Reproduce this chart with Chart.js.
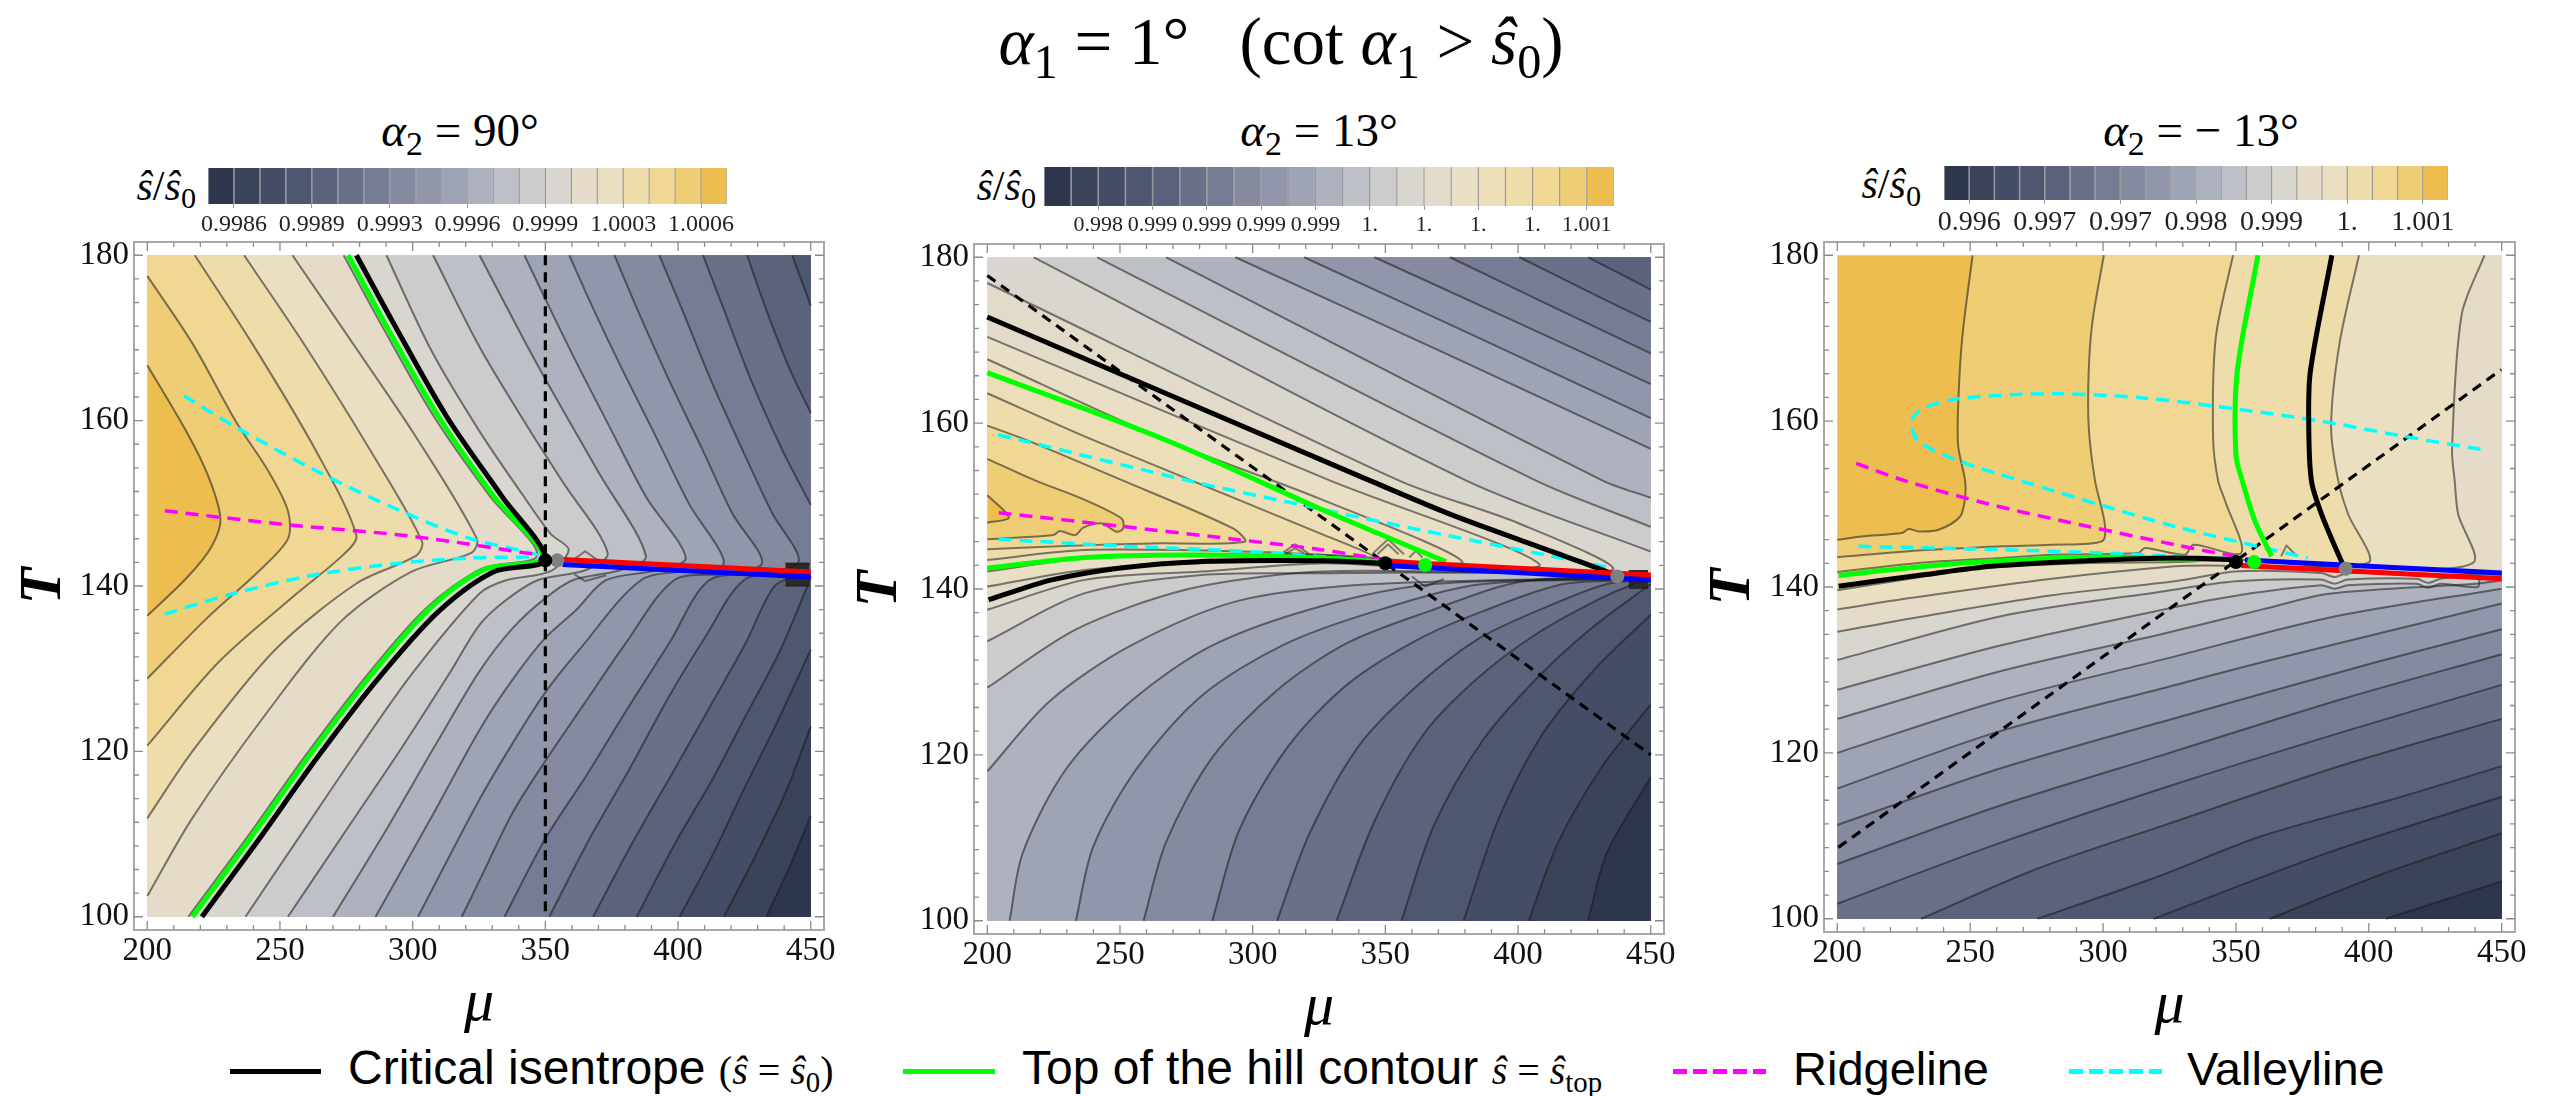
<!DOCTYPE html>
<html><head><meta charset="utf-8">
<script src="https://cdn.jsdelivr.net/npm/chart.js@4/dist/chart.umd.min.js"></script>
<style>
html,body{margin:0;padding:0;background:#fff;width:2558px;height:1096px;overflow:hidden}
canvas{position:absolute}
.t{position:absolute;white-space:nowrap;font-family:"Liberation Serif",serif;color:#000;transform:translate(-50%,-50%);line-height:1}
.r{transform:translate(-100%,-50%)}
.l{transform:translate(0,-50%)}
.s{font-family:"Liberation Sans",sans-serif}
sub{font-size:.72em;vertical-align:baseline;position:relative;top:.28em;line-height:0}
.k{position:absolute;height:5px}
.m{font-family:'Liberation Serif';font-size:40px}
</style></head><body>
<div class="t" style="left:1281px;top:41px;font-size:67px"><i>α</i><sub>1</sub> = 1°&nbsp;&nbsp;&nbsp;(cot <i>α</i><sub>1</sub> &gt; <i>ŝ</i><sub>0</sub>)</div>
<div class="t" style="left:460px;top:130px;font-size:47px"><i>α</i><sub>2</sub> = 90°</div>
<div class="t" style="left:1319px;top:130px;font-size:47px"><i>α</i><sub>2</sub> = 13°</div>
<div class="t" style="left:2201px;top:130px;font-size:47px"><i>α</i><sub>2</sub> = − 13°</div>
<div class="t r" style="left:196px;top:186px;font-size:42px"><i>ŝ</i>/<i>ŝ</i><sub>0</sub></div>
<div class="t r" style="left:1036px;top:186px;font-size:42px"><i>ŝ</i>/<i>ŝ</i><sub>0</sub></div>
<div class="t r" style="left:1921px;top:184px;font-size:42px"><i>ŝ</i>/<i>ŝ</i><sub>0</sub></div>
<div class="k" style="left:230px;top:1069px;width:91px;background:#000"></div>
<div class="t l s" style="left:348px;top:1068px;font-size:48px">Critical isentrope <span class="m">(<i>ŝ</i> = <i>ŝ</i><sub>0</sub>)</span></div>
<div class="k" style="left:903px;top:1069px;width:92px;background:#00ff00"></div>
<div class="t l s" style="left:1022px;top:1068px;font-size:48px">Top of the hill contour <span class="m"><i>ŝ</i> = <i>ŝ</i><sub>top</sub></span></div>
<div class="k" style="left:1673px;top:1069px;width:93px;background:repeating-linear-gradient(90deg,#ff00ff 0 14px,transparent 14px 20px)"></div>
<div class="t l s" style="left:1793px;top:1068px;font-size:47px">Ridgeline</div>
<div class="k" style="left:2069px;top:1069px;width:93px;background:repeating-linear-gradient(90deg,#00ffff 0 14px,transparent 14px 20px)"></div>
<div class="t l s" style="left:2187px;top:1068px;font-size:47px">Valleyline</div>
<script>
// ---- axes ----
const muMin=200, muMax=450, tMin=100, tMax=180;
const xTickValues=[200,250,300,350,400,450];
const yTickValues=[100,120,140,160,180];
// ---- colour bands, darkest first ----
const palette20=['#2e364d','#3b4359','#444c66','#4f5670','#5c627c','#6a7087','#767c94','#858a9f','#9296ab','#9fa4b4','#aeb1be','#bec0c7','#cccccc','#d9d6cf','#e4dcc9','#eae0c1','#efdcab','#f0d793','#efcd75','#edbd4f'];
const palette21=['#2e364d','#3b4359','#444c66','#4f5670','#5c627c','#6a7087','#767c94','#858a9f','#9296ab','#9fa4b4','#aeb1be','#bec0c7','#cccccc','#d9d6cf','#e2dbca','#e8dfc4','#ecdfb8','#efdcab','#f0d793','#efcd75','#edbd4f'];
// ---- colourbar tick labels ----
const bar1Ticks=[1,4,7,10,13,16,19];
const bar1Labels=['0.9986','0.9989','0.9993','0.9996','0.9999','1.0003','1.0006'];
const bar2Ticks=[2,4,6,8,10,12,14,16,18,20];
const bar2Labels=['0.998','0.999','0.999','0.999','0.999','1.','1.','1.','1.','1.001'];
const bar3Ticks=[1,4,7,10,13,16,19];
const bar3Labels=['0.996','0.997','0.997','0.998','0.999','1.','1.001'];
// ---- panel 1 : alpha2 = 90 ----
const p1Contours=[
[[200,166.7],[214.9,158.6],[223.1,153.2],[227.6,148.1],[224.1,144.7],[214.9,141],[200,136.4]],
[[200,177.5],[216.9,169.4],[233.4,159.9],[245.8,153.8],[253,149.1],[253,145.7],[241.7,141.7],[223.1,136.3],[200,128.8]],
[[217.9,180],[239.4,169.4],[263.3,156.5],[278.8,146.1],[273.6,143.7],[256,139],[227.2,130.9],[200,120.7]],
[[236.5,180],[260.2,168.7],[285,155.9],[303.5,145.4],[301.5,143.7],[278.8,140.3],[247.9,132.2],[217,120],[200,111.9]],
[[254.7,180],[278.8,168.7],[301.5,157.9],[324.2,145.7],[322.1,144],[299.4,141.7],[272.6,135.6],[243.7,124.1],[216.9,111.9],[200,102.5]],
[[274,180],[287.5,172],[308,160.5],[329,150.9],[347,143.7],[326,142.1],[304.7,137.2],[282,128.9],[259.4,119.4],[236.7,109.2],[215.5,100]],
[[290.1,180],[307,168.5],[325.2,158.7],[341.5,151],[352,146.3],[358.8,144.4],[352,141.8],[335.2,140.7],[325.2,139.1],[300,129.5],[278,119.5],[258,110],[237,100]],
[[307.7,180],[325.2,168.9],[344,158.9],[356.5,152.6],[373.5,144],[365,141.9],[347.1,140.7],[335.2,138.3],[325.2,135.3],[314,129.5],[296,120.5],[275,110.5],[253,100]],
[[325.2,180],[342.7,169.3],[355.3,162],[370.3,153.6],[387.9,143.6],[378,141.9],[360.3,140.7],[349.9,138.5],[337.7,134.9],[325.2,129.7],[309,121],[290,110.5],[270,100]],
[[342.1,180],[350.3,174.5],[361.6,167.1],[374.1,159.3],[387.9,150.8],[402.9,143.4],[392,141.9],[372.8,140.7],[361.6,137.1],[349.9,133.7],[337.7,128.7],[325.2,122.6],[307,112],[286,100]],
[[359,180],[367.8,173.7],[379.1,166.1],[391.6,158.1],[404.2,149.9],[417.3,142.8],[405,141.9],[386,140.7],[362.8,132.3],[349.9,127.1],[337.7,121],[325.2,114.2],[302,100]],
[[376,180],[385.4,172.9],[396.6,164.9],[409.2,156.5],[420.4,148.8],[431.7,142.8],[418,141.5],[398.5,140.7],[380.3,133.1],[364.1,125.5],[349.9,118.8],[337.7,112.6],[325.2,104.4],[318.5,100]],
[[392.9,180],[401.7,173.3],[412.9,164.5],[424.2,156.5],[435.5,148.8],[445.5,143],[432,141.5],[411.7,140.7],[396.7,133.1],[381.6,125.5],[365.3,117],[349.9,109.4],[334.6,100]],
[[409.4,180],[417.9,172.9],[428,164.5],[439.2,156.5],[450,149.8],null,[450,141.8],[442,141.6],[424.8,140.7],[410.4,133.9],[396.7,126.7],[381.6,117.8],[366.6,109.4],[351.5,100]],
[[426,180],[432.9,173.7],[441.7,166.5],[450,160.9],null,[450,141.5],[445,141.3],[436.1,139.9],[425.5,133.1],[412.9,125.9],[397.9,117.4],[382.9,109],[368,100]],
[[443,180],[450,173.9],null,[450,141.2],[448.6,139.9],[438,131.9],[425.5,124.3],[412.9,116.6],[399.1,109],[384.4,100]],
[[450,132.3],[437.9,123.9],[425.4,115.8],[412.9,107.4],[400.6,100]],
[[450,123],[440.5,115],[429.2,107.4],[417.3,100]],
[[450,112.2],[441.7,105.8],[433.2,100]]
];
const p1Close=['BL BR TR TL','BL BR TR TL','BL BR TR','BL BR TR','BL BR TR','BR TR','BR TR','BR TR','BR TR','BR TR','BR TR','BR TR','BR TR','BR TR','BR TR','BR TR','BR','BR','BR'];
const p1Notches=[[[358,142.6],[365,144.2],[372,142.6]],[[361,141.4],[365,140.6],[373,141.3]],[[440.5,142.7],[449.5,142.7]],[[440.5,140],[449.5,140]]];
const p1Patch=[[440.5,142.8],[449.5,142.8],[449.5,140],[440.5,140]];
const p1Black=[[278.8,180],[292.4,172],[312.8,160.5],[333.5,150.9],[350,143.2],[330.4,141.7],[309.7,136.9],[287,128.8],[264.4,119.4],[241.7,109.2],[220.6,100]];
const p1Green=[[275.7,180],[289.1,172],[309.7,160.5],[330.4,150.9],[349,143.4],[327,142],[306.2,137.2],[283.5,128.9],[260.9,119.4],[238.2,109.2],[217,100]];
const p1Ridge=[[206.6,149.1],[250,147.5],[300,146],[349,143.7]];
const p1Valley=[[213.8,163],[233.4,159.2],[264.4,153.8],[293.2,149.4],[322,145.7],[347,143.7],[322,143.4],[293.2,142.7],[262.3,141.3],[231.4,139],[206.6,136.6]];
const p1Dashed=[[350,180],[350,100]];
const p1Red=[[356.5,143.2],[450,141.7]];
const p1Blue=[[356.5,142.6],[450,141.1]];
const p1Dots={black:[350,143.1],gray:[354.5,143.1]};
// ---- panel 2 : alpha2 = 13 ----
const p2Contours=[
[[200,151.3],[206.8,149.3],[208,148.5],[200,148]],
[[200,155.7],[218,153.1],[235.6,150.9],[250.6,148.5],[251.2,147.3],[248.8,146.9],[243.1,147.9],[236.2,147.4],[233.1,146.5],[227.4,147],[224.9,146.5],[211.8,146.2],[200,146]],
[[200,159.7],[214.9,157.95],[249.4,153.3],[292.6,147.3],[297,145.7],[261.9,145.5],[230.6,145.2],[200,144.8]],
[[200,163.6],[240,157.95],[327,146.5],[346.5,143.7],[327,144.1],[299.5,144.5],[236.8,144.7],[200,143.5]],
[[200,167.7],[267,158],[325.2,150.9],[379,143.3],[340,143.9],[327,144.1],[279.4,144.1],[236.8,143.7],[200,142.1]],
[[200,170.4],[329,153.1],[408,143],[360,143],[327,143.3],[279.4,143.1],[236.8,142.3],[200,140.3]],
[[200,176.9],[355,153.1],[400.4,147.9],[435.5,142.3],[360,142.6],[327,143.1],[280.7,142.1],[236.8,141.1],[200,137.5]],
[[217.5,180],[380.3,153.1],[450,144.5],null,[450,141.8],[360,142],[327,141.9],[280.7,141.7],[236.8,139.5],[200,133.7]],
[[241.4,180],[406.6,153.1],[450,147.5],null,[450,141.6],[345.9,142.2],[315.3,141.9],[274.6,139.9],[233.8,135.2],[200,128.1]],
[[267.4,180],[431.7,153.1],[450,151],null,[450,141.4],[345.9,140.6],[294.9,138.6],[254.2,133.2],[223.6,126.5],[200,118]],
[[293.5,180],[372,168.5],[450,156.9],null,[450,141.3],[368.3,140.6],[325.5,137.9],[284.8,133.2],[254.2,126.5],[229.7,118.3],[213.4,108.2],[208.4,100]],
[[319.4,180],[385,170.3],[450,160.6],null,[450,141.2],[386.6,140.6],[345.9,137.3],[311.2,133.2],[280.7,127.1],[256.2,118.3],[239.9,108.9],[233.4,100]],
[[345.9,180],[398,172.4],[450,164.7],null,[450,141.2],[402.9,141],[366.3,137.3],[335.7,133.5],[309.2,127.8],[284.8,119.7],[267.4,109.5],[258.9,100]],
[[374.4,180],[412,174.2],[450,168.4],null,[450,141.1],[417.2,140.6],[386.6,137.3],[362.2,133.9],[335.7,128.5],[313.3,121],[294.9,110.9],[284.8,100]],
[[400.5,180],[425,176.1],[450,172.2],null,[450,141.1],[433.5,140.6],[409,137.6],[384.6,133.9],[360.1,127.8],[339.8,121],[321.4,110.5],[309.2,100]],
[[426.4,180],[450,176.1],null,[450,141],[443.7,140.6],[429.4,138.6],[407,134.6],[384.6,129.2],[364.2,122.4],[345.9,112],[331.6,100]],
[[450,140.6],[427.4,135.2],[407,129.2],[386.6,121.7],[368.3,111.5],[356.1,100]],
[[450,136.9],[429.4,130.5],[409,122.4],[392.7,112.3],[379.5,100]],
[[450,126.1],[431.5,118.5],[415.2,109.5],[404,100]],
[[450,117.3],[433.5,108.2],[426.4,100]]
];
const p2Close=['BL BR TR TL','BL BR TR TL','BL BR TR TL','BL BR TR TL','BL BR TR TL','BL BR TR TL','BL BR TR TL','BL BR TR','BL BR TR','BL BR TR','BR TR','BR TR','BR TR','BR TR','BR TR','BR TR','BR','BR','BR','BR'];
const p2Notches=[[[311,144.3],[316,145.4],[321,144.3]],[[312.5,144.3],[316,144.9],[319.5,144.3]],[[345,144.2],[351,146],[357,144.2]],[[347,144.2],[351,145.4],[355,144.2]],[[359,143.8],[361.5,144.6],[364,143.8]],[[360,141.5],[365,140.3],[372,141.2]]];
const p2Patch=[[441.7,142.3],[449,142.3],[449,140],[441.7,140]];
const p2Black=[[200,172.8],[344,153.1],[375.3,148.9],[412.9,144.5],[431.7,142.3],[437.4,141.5],null,[200.5,138.7],[211.8,139.9],[224.3,141.1],[249.4,142.5],[279.4,143.3],[327,143.4],[350,143.1]];
const p2Green=[[200,166.1],[267,158],[325.2,149.7],[350.3,146.3],[372.8,143.3],null,[200,142.5],[236.8,143.8],[279.4,144.1],[327,143.7],[350,143.2]];
const p2Ridge=[[204.3,149.2],[249.4,147.6],[293.2,146],[324.5,144.8],[350,143.5]];
const p2Valley=[[204,158.6],[211.8,158],[279.4,152.8],[315.8,150.3],[329,149.4],[366.5,146.9],[410.4,144.1],[435.5,142.5],null,[204.3,146],[249.4,145.2],[299.5,144.5],[350,143.3]];
const p2Dashed=[[200,177.8],[450,120]];
const p2Red=[[352,143.3],[450,141.7]];
const p2Blue=[[352,142.8],[450,141.1]];
const p2Dots={black:[350,143.1],green:[365,142.9],gray:[437.4,141.5]};
// ---- panel 3 : alpha2 = -13 ----
const p3Contours=[
[[250.9,180],[247,170],[245.5,162],[245.5,157],[248.1,152.8],[248.1,150.8],[246.2,148.5],[238.1,146.9],[230.6,146.7],[226.8,147],[224.3,146.5],[209.3,146.1],[200,145.7]],
[[300.3,180],[296,172],[294.6,166],[294.6,159.3],[297,152.8],[300.7,147.5],[299.5,145.5],[280.7,145.1],[261.9,144.9],[230.6,144.4],[200,143.6]],
[[348.9,180],[342.4,170],[341.4,157.9],[343.3,152.8],[345.9,150.4],[352,144.1],[334,145.1],[330.8,143.9],[315.8,144.7],[313.3,144.1],[280.7,143.9],[261.9,143.5],[230.6,142.9],[200,141.8]],
[[396.3,180],[389,169.4],[385.8,159.3],[388.5,152.8],[392.2,148.8],[399.7,142.9],[350,143.3],[327,143],[295.7,142.9],[258.1,142.4],[233.1,141.3],[200,139.6]],
[[443.5,180],[434.9,172.8],[431.3,156.6],[432.3,152.8],[433.6,148.8],[439.2,142.9],[400,142.4],[340,142.6],[327,142.5],[280.7,141],[228.1,138.7],[200,137.3]],
[[200,134.6],[229.3,136.3],[280.7,139],[327,140.7],[351,141.9],[382,141.7],[387.2,141.2],[392,141.7],[423,141.4],[450,141.8]],
[[200,131.2],[262,136.5],[323,139.5],[350,140.7],[382,140.9],[387.2,140.4],[392,140.9],[418,141],[422.3,140.5],[427,141],[442,141.5],[450,141.6]],
[[200,127.6],[262,133],[323,137.3],[351,139],[382,140.2],[387.2,139.8],[392,140.2],[418,140.4],[422.3,139.9],[427,140.4],[441,140],[442,141.1],[450,141.3]],
[[200,124.1],[262,129.9],[323,134.4],[360,137.3],[385,139.2],[440,140.4],[450,140.8]],
[[200,120],[260,126.2],[323,131.3],[385,136.3],[450,139.8]],
[[200,115.7],[260,122.5],[325,128],[362,131.1],[450,138]],
[[200,111.3],[260,118],[325,124],[404.7,131.1],[450,134.9]],
[[200,106.6],[260,113.5],[325,120],[390,126.5],[450,131.9]],
[[200,101.8],[260,109],[325,116],[390,122.5],[450,128.2]],
[[231.5,100],[275,106],[325,111.5],[390,118.5],[450,124.1]],
[[275.3,100],[320,105],[360,110],[410,114.5],[450,118.4]],
[[319,100],[385,108],[450,114.7]],
[[362.7,100],[406,105.5],[450,110.3]],
[[406.5,100],[450,104.5]]
];
const p3Close=['BL BR TR','BL BR TR','BL BR TR','BL BR TR','BL BR TR','BR BL','BR BL','BR BL','BR BL','BR BL','BR BL','BR BL','BR BL','BR BL','BR','BR','BR','BR','BR'];
const p3Notches=[[[367,143.7],[369,145],[373,143.7]]];
const p3Patch=null;
const p3Black=[[386.1,180],[378,166],[377.4,159.3],[378.4,152.8],[382.2,148.8],[389.7,143.1],[391.3,142.2],null,[200.5,140.1],[233.1,141.5],[258.1,142.5],[295.7,143.2],[327,143.5],[350,143.3]];
const p3Green=[[358.3,180],[350.5,166],[350,155.9],[352.4,152.8],[357.1,148],[363.4,143.7],null,[200.5,141.4],[233.1,142.5],[258.1,143.1],[295.7,143.6],[327,143.4],[350,143.3]];
const p3Ridge=[[207.1,154.9],[225.6,152.8],[256.9,150],[294.5,147.3],[327,145.1],[350.9,143.6]];
const p3Valley=[[442,156.6],[412.6,158.2],[382,160],[351.5,161.4],[314.9,162.8],[282.4,163.3],[247.8,162.8],[232.5,161.6],[227.9,160],[230.5,157.6],[245.8,155.2],[269,152.8],[300,149.8],[327,147.3],[350.2,145.5],[377,143.5],null,[208,144.9],[261.9,144.5],[299.5,144.1],[327,143.7],[350,143.4]];
const p3Dashed=[[200.4,108.6],[449.8,166.2]];
const p3Red=[[352.1,142.6],[450,141]];
const p3Blue=[[353.4,143.25],[450,141.7]];
const p3Dots={black:[350,143],green:[356.9,143],gray:[391.3,142.2]};

const corners={BL:[muMin,tMin],BR:[muMax,tMin],TR:[muMax,tMax],TL:[muMin,tMax]};
const SMOOTH=0.3;
const xy=p=>p?{x:p[0],y:p[1]}:{x:null,y:null};
const lineDs=(pts,color,width,dash,t)=>({data:pts.map(xy),showLine:true,pointRadius:0,borderColor:color,borderWidth:width,borderDash:dash||[],fill:false,tension:t===undefined?SMOOTH:t,borderCapStyle:'butt',borderJoinStyle:'round'});
const dotDs=(p,color,r)=>({data:[xy(p)],showLine:false,pointRadius:r,pointBackgroundColor:color,pointBorderWidth:0,pointBorderColor:color});
const fillDs=(pts,color)=>({data:pts.map(xy),showLine:true,pointRadius:0,borderColor:'transparent',borderWidth:0,backgroundColor:color,fill:'shape',tension:SMOOTH});
// doubled vertices keep the curve identical to the stroked contour but make the closing edges straight
function outline(c,close){
  const out=[];
  c.forEach((p,i)=>{ if(!p)return; out.push(p); if(i===0||i===c.length-1||!c[i-1]||!c[i+1])out.push(p); });
  close.split(' ').forEach(k=>{out.push(corners[k]);out.push(corners[k]);});
  return out;
}

const framePlugin={id:'frame',afterDatasetsDraw(c){
  const a=c.chartArea,g=c.ctx,X=c.scales.x,Y=c.scales.y;
  g.save();g.strokeStyle='#a9a9a9';g.lineWidth=2;g.strokeRect(a.left,a.top,a.width,a.height);
  g.strokeStyle='#8c8c8c';g.lineWidth=1.3;g.beginPath();
  for(let v=muMin;v<=muMax;v+=10){const p=X.getPixelForValue(v),l=v%50===0?9:5;g.moveTo(p,a.bottom);g.lineTo(p,a.bottom-l);g.moveTo(p,a.top);g.lineTo(p,a.top+l);}
  for(let i=0;i<=28;i++){const v=tMin+i*20/7,p=Y.getPixelForValue(v),l=i%7===0?9:5;g.moveTo(a.left,p);g.lineTo(a.left+l,p);g.moveTo(a.right,p);g.lineTo(a.right-l,p);}
  g.stroke();g.restore();
}};

function panel(f,o){
  const [L,T,R,B]=f,LP=130,RP=40,TP=32,BP=110;
  const cv=document.createElement('canvas');cv.width=R-L+LP+RP;cv.height=B-T+TP+BP;
  cv.style.left=(L-LP)+'px';cv.style.top=(T-TP)+'px';document.body.appendChild(cv);
  const pal=o.palette,n=pal.length,ds=[];
  // painter's order: lightest band first, each next band painted from its bounding contour
  ds.push(fillDs(['TL','TL','TR','TR','BR','BR','BL','BL'].map(k=>corners[k]),pal[n-1]));
  o.contours.forEach((c,i)=>ds.push(fillDs(outline(c,o.close[i]),pal[n-2-i])));
  if(o.patch){const d=fillDs(o.patch,'#2b2b2b');d.tension=0;ds.push(d);}
  const cc='rgba(25,25,25,0.55)';
  o.contours.forEach(c=>ds.push(lineDs(c,cc,2)));
  o.notches.forEach(c=>ds.push(lineDs(c,'rgba(25,25,25,0.5)',2,null,0)));
  ds.push(lineDs(o.dashed,'#000',3.2,[10,7],0));
  ds.push(lineDs(o.valley,'#00ffff',3.5,[13,8]));
  ds.push(lineDs(o.ridge,'#ff00ff',3.5,[13,8]));
  ds.push(lineDs(o.green,'#00ff00',5));
  ds.push(lineDs(o.black,'#000',5));
  ds.push(lineDs(o.red,'#ff0000',5,null,0));
  ds.push(lineDs(o.blue,'#0000ff',5,null,0));
  if(o.dots.gray)ds.push(dotDs(o.dots.gray,'#808080',7));
  if(o.dots.green)ds.push(dotDs(o.dots.green,'#00ff00',7));
  ds.push(dotDs(o.dots.black,'#000',7));
  ds.forEach((d,i)=>{d.order=ds.length-i;});
  new Chart(cv,{type:'scatter',data:{datasets:ds},plugins:[framePlugin],options:{
    responsive:false,animation:false,events:[],devicePixelRatio:1,
    layout:{padding:{left:0,right:RP,top:TP,bottom:0}},
    plugins:{legend:{display:false},tooltip:{enabled:false}},
    scales:{
      x:{type:'linear',min:195,max:455,grid:{display:false,drawTicks:false},border:{display:false},
        afterBuildTicks:s=>{s.ticks=xTickValues.map(v=>({value:v}));},afterFit:s=>{s.height=BP;},
        ticks:{color:'#111',padding:2,maxRotation:0,autoSkip:false,font:{family:'Liberation Serif',size:33},callback:v=>String(v)},
        title:{display:true,text:'μ',color:'#000',padding:{top:24,bottom:0},font:{family:'Liberation Serif',size:60,style:'italic',lineHeight:1.2}}},
      y:{type:'linear',min:98.4,max:181.6,grid:{display:false,drawTicks:false},border:{display:false},
        afterBuildTicks:s=>{s.ticks=yTickValues.map(v=>({value:v}));},afterFit:s=>{s.width=LP;},
        ticks:{color:'#111',padding:5,autoSkip:false,font:{family:'Liberation Serif',size:33},callback:v=>String(v)},
        title:{display:true,text:'T',color:'#000',padding:{top:o.tpad,bottom:0},font:{family:'Liberation Serif',size:60,style:'italic',weight:'bold',lineHeight:1.2}}}
    }}});
}

function colorbar(r,pal,ticks,labels,size){
  const [L,T,R,B]=r,PX=45,BP=44;
  const cv=document.createElement('canvas');cv.width=R-L+2*PX;cv.height=B-T+BP+2;
  cv.style.left=(L-PX)+'px';cv.style.top=(T-2)+'px';document.body.appendChild(cv);
  const ds=pal.map((c,i)=>({data:[[i,i+1]],backgroundColor:c,borderColor:'rgba(30,30,30,0.35)',borderWidth:{left:1,right:1,top:0,bottom:0},borderSkipped:false,barPercentage:1,categoryPercentage:1,grouped:false}));
  new Chart(cv,{type:'bar',data:{labels:['b'],datasets:ds},options:{
    indexAxis:'y',responsive:false,animation:false,events:[],devicePixelRatio:1,
    layout:{padding:{left:PX,right:PX,top:2,bottom:0}},
    plugins:{legend:{display:false},tooltip:{enabled:false}},
    scales:{
      y:{display:false,type:'category',offset:true,grid:{display:false}},
      x:{type:'linear',min:0,max:pal.length,grid:{drawOnChartArea:false,drawTicks:true,tickLength:4,color:'#999'},border:{display:false},
        afterBuildTicks:s=>{s.ticks=ticks.map(v=>({value:v}));},afterFit:s=>{s.height=BP;},
        ticks:{color:'#222',padding:2,maxRotation:0,autoSkip:false,font:{family:'Liberation Serif',size},callback:(v,i)=>labels[i]}}
    }}});
}

colorbar([208,168,727,204],palette20,bar1Ticks,bar1Labels,24);
colorbar([1044,167,1614,206],palette21,bar2Ticks,bar2Labels,22);
colorbar([1944,166,2448,200],palette20,bar3Ticks,bar3Labels,28);

panel([134,242,824,930],{palette:palette20,contours:p1Contours,close:p1Close,notches:p1Notches,patch:p1Patch,black:p1Black,green:p1Green,ridge:p1Ridge,valley:p1Valley,dashed:p1Dashed,red:p1Red,blue:p1Blue,dots:p1Dots,tpad:4});
panel([974,244,1664,934],{palette:palette21,contours:p2Contours,close:p2Close,notches:p2Notches,patch:p2Patch,black:p2Black,green:p2Green,ridge:p2Ridge,valley:p2Valley,dashed:p2Dashed,red:p2Red,blue:p2Blue,dots:p2Dots,tpad:0});
panel([1824,242,2515,932],{palette:palette20,contours:p3Contours,close:p3Close,notches:p3Notches,patch:p3Patch,black:p3Black,green:p3Green,ridge:p3Ridge,valley:p3Valley,dashed:p3Dashed,red:p3Red,blue:p3Blue,dots:p3Dots,tpad:3});
</script>
</body></html>
